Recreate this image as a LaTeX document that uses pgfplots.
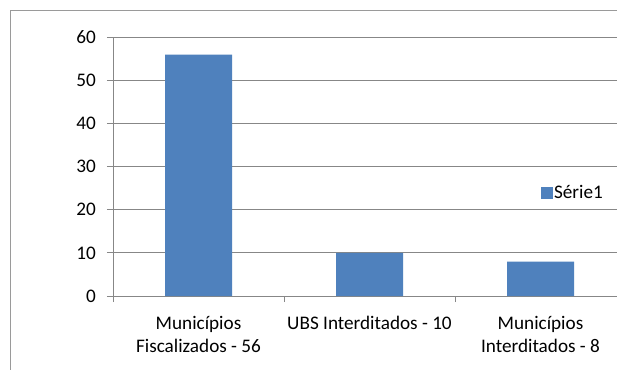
\documentclass[border=0pt]{standalone}
\usepackage{fontspec}
\setmainfont{Carlito}
\usepackage{pgfplots}
\pgfplotsset{compat=1.18}
\definecolor{barblue}{HTML}{4F81BD}
\definecolor{gridgray}{HTML}{878787}
\definecolor{framegray}{HTML}{9A9A9A}
\begin{document}
\begin{tikzpicture}
\useasboundingbox (0,0) rectangle (462.75pt,-277.5pt);
\clip (0,0) rectangle (462.75pt,-277.5pt);
\fill[white] (0,0) rectangle (462.75pt,-277.5pt);
\draw[framegray, line width=0.75pt] (7.5pt,-290pt) -- (7.5pt,-8.25pt) -- (480pt,-8.25pt);
\begin{axis}[
  at={(84.75pt,-222pt)}, anchor=south west,
  scale only axis, width=384.75pt, height=193.875pt,
  xmin=-0.5, xmax=2.5, ymin=0, ymax=60,
  ybar, bar width=50.25pt,
  ytick={0,10,...,60},
  xtick={0,1,2},
  minor xtick={-0.5,0.5,1.5,2.5},
  xticklabels={{Municípios\\Fiscalizados - 56},{UBS Interditados - 10},{Municípios\\Interditados - 8}},
  /pgf/number format/assume math mode=true,
  tick label style={font=\fontsize{14.4}{17.25}\selectfont, text=black},
  xticklabel style={align=center, anchor=north, inner sep=0pt, yshift=-10.75pt},
  yticklabel style={anchor=east, inner sep=0pt, xshift=-8.25pt},
  axis x line*=bottom, axis y line*=left,
  axis line style={draw=gridgray, line width=0.75pt, -},
  tick align=outside,
  major x tick style={draw=none},
  major y tick style={draw=gridgray, line width=0.75pt},
  minor x tick style={draw=gridgray, line width=0.75pt},
  major tick length=4.5pt, minor tick length=4.5pt,
  ymajorgrids, grid style={draw=gridgray, line width=0.75pt},
  legend style={at={(0.834,0.398)}, anchor=west, draw=none, fill=none,
    inner sep=0pt, font=\fontsize{14.4}{17.25}\selectfont,
    nodes={inner sep=0.75pt}},
  legend cell align=left,
]
\addplot[fill=barblue, draw=none,
  legend image code/.code={\fill[barblue] (0pt,-4.5pt) rectangle (9pt,4.5pt);}]
  coordinates {(0,56) (1,10) (2,8)};
\addlegendentry{Série1}
\end{axis}
\end{tikzpicture}
\end{document}
